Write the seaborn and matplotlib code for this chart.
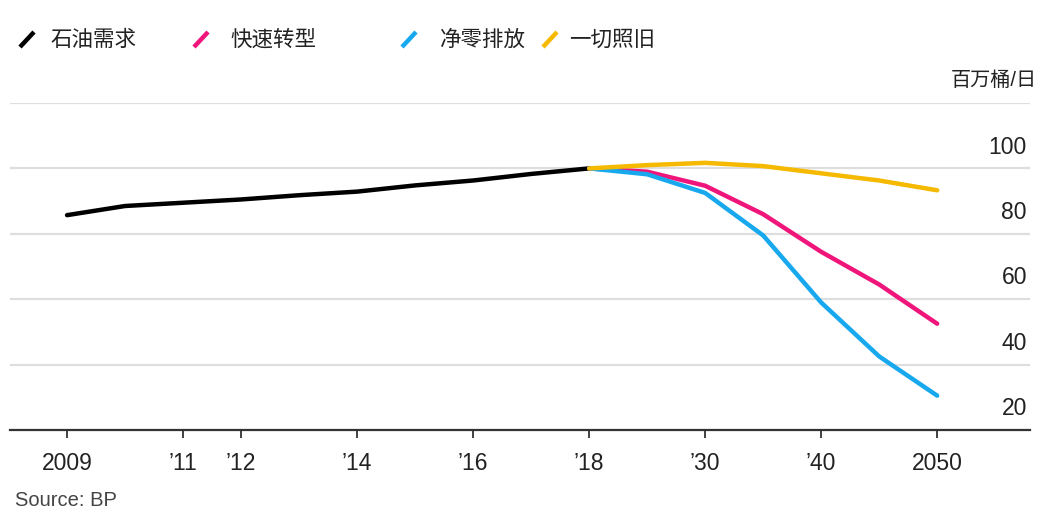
import numpy as np
import pandas as pd
import seaborn as sns
import matplotlib
matplotlib.use("Agg")
import matplotlib.pyplot as plt
from matplotlib.lines import Line2D

# historical demand, 2009-2018 (mb/d)
hist_years = [2009, 2010, 2011, 2012, 2013, 2014, 2015, 2016, 2017, 2018]
hist_demand = [85.7, 88.5, 89.5, 90.5, 91.8, 92.9, 94.8, 96.3, 98.3, 100.0]

# BP scenarios, plotted at equal spacing after 2018
proj_years = [2018, 2025, 2030, 2035, 2040, 2045, 2050]
rapid = [100.0, 99.0, 94.7, 86.0, 74.5, 64.5, 52.5]
net_zero = [100.0, 98.2, 92.5, 79.5, 59.0, 42.5, 30.5]
bau = [100.0, 101.0, 101.7, 100.7, 98.5, 96.3, 93.3]

series_names = ["石油需求", "快速转型", "净零排放", "一切照旧"]
colors = ["#000000", "#f0157a", "#17a8ee", "#f5b900"]

tick_years = [2009, 2011, 2012, 2014, 2016, 2018, 2030, 2040, 2050]
tick_labels = ["2009", "\u201911", "\u201912", "\u201914", "\u201916", "\u201918",
               "\u201930", "\u201940", "2050"]
y_levels = [20, 40, 60, 80, 100]

# x position: one unit per year up to 2018, then one unit per projection step
year_pos = {y: i for i, y in enumerate(hist_years)}
for i, y in enumerate(proj_years):
    year_pos.setdefault(y, 9 + i)

rows = []
for y, v in zip(hist_years, hist_demand):
    rows.append((series_names[0], year_pos[y], v))
for name, vals in zip(series_names[1:], [rapid, net_zero, bau]):
    for y, v in zip(proj_years, vals):
        rows.append((name, year_pos[y], v))
df = pd.DataFrame(rows, columns=["series", "pos", "value"])

sns.set_style("white")
plt.rcParams["font.family"] = ["Liberation Sans", "Noto Sans CJK SC", "DejaVu Sans"]

fig = plt.figure(figsize=(10.52, 5.16), dpi=100)
W, H = 1052, 516
ax = fig.add_axes([10 / W, 1 - 430 / H, 1020 / W, 327 / H])

for y in [40, 60, 80, 100, 120]:
    ax.axhline(y, color="#dedede", lw=1.6, zorder=0)

sns.lineplot(data=df, x="pos", y="value", hue="series", hue_order=series_names,
             palette=dict(zip(series_names, colors)), estimator=None, sort=False,
             linewidth=3.2, legend=False, ax=ax)

ax.set_xlim(-0.983, 16.6)
ax.set_ylim(20, 120)
ax.set_xlabel("")
ax.set_ylabel("")
ax.set_yticks([])
ax.set_xticks([year_pos[y] for y in tick_years])
ax.set_xticklabels(tick_labels, fontsize=16.5, color="#222222")
ax.tick_params(axis="x", bottom=True, direction="out", length=6, width=1.3,
               color="#333333", pad=10)
for s in ["top", "left", "right"]:
    ax.spines[s].set_visible(False)
ax.spines["bottom"].set_color("#333333")
ax.spines["bottom"].set_linewidth(1.6)

for v in y_levels:
    ax.text(1017 / 1020, v + 6.5, str(v), transform=ax.get_yaxis_transform(),
            ha="right", va="center", fontsize=16.5, color="#222222")

fig.text(1037 / W, 1 - 80 / H, "百万桶/日", ha="right", va="center", fontsize=14.5,
         color="#222222")
fig.text(15 / W, 1 - 501 / H, "Source: BP", ha="left", va="center", fontsize=14.5,
         color="#444444")

# legend with slash markers
leg_slash_x = [20, 194, 402, 543]
leg_text_x = [50, 230, 440, 569]
for c, name, sx, tx in zip(colors, series_names, leg_slash_x, leg_text_x):
    fig.add_artist(Line2D([sx / W, (sx + 14) / W], [1 - 47 / H, 1 - 32 / H],
                          color=c, lw=3.2, solid_capstyle="butt"))
    fig.text(tx / W, 1 - 40 / H, name, ha="left", va="center", fontsize=15.5,
             color="#222222")

fig.savefig("out.png", dpi=100)
